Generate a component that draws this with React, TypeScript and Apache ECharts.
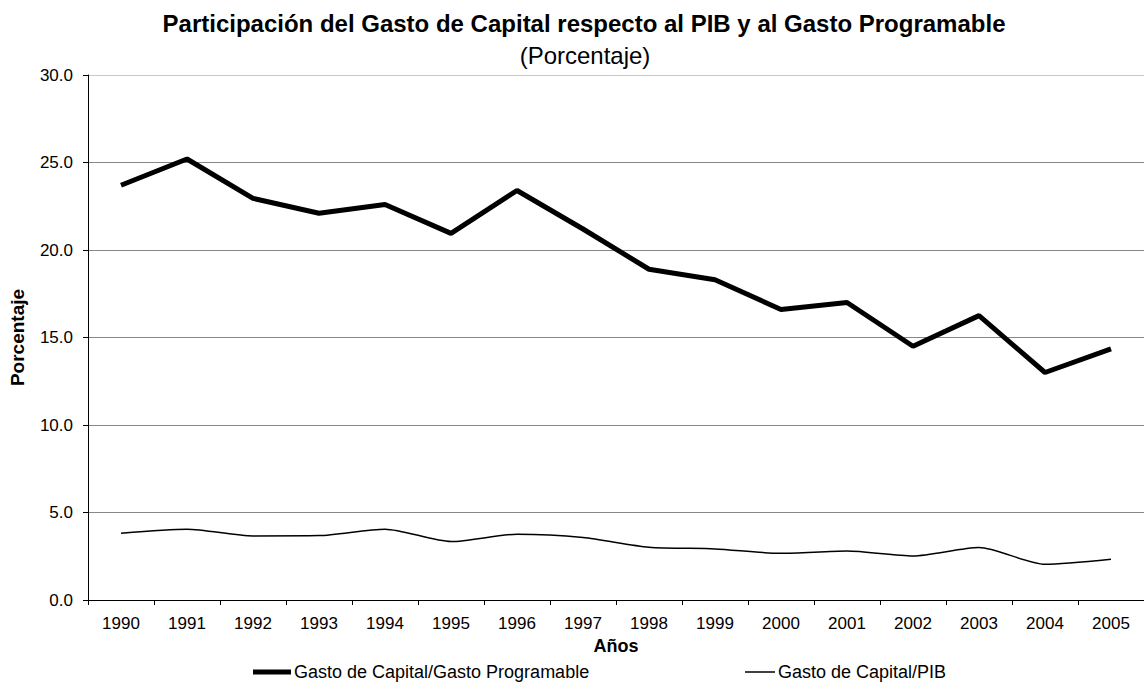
import React, { useEffect, useRef } from "react";
import * as echarts from "echarts";

const years = ["1990","1991","1992","1993","1994","1995","1996","1997","1998","1999","2000","2001","2002","2003","2004","2005"];
const gastoProgramable = [23.7, 25.2, 22.95, 22.1, 22.6, 20.95, 23.4, 21.2, 18.9, 18.3, 16.6, 17.0, 14.5, 16.25, 13.0, 14.35];
const gastoPIB = [3.82, 4.05, 3.66, 3.68, 4.05, 3.34, 3.76, 3.57, 3.02, 2.92, 2.67, 2.8, 2.52, 3.0, 2.04, 2.33];
const seriesNames = ["Gasto de Capital/Gasto Programable", "Gasto de Capital/PIB"];
const titleText = "Participación del Gasto de Capital respecto al PIB y al Gasto Programable";
const subtitleText = "(Porcentaje)";

const FONT = "Liberation Sans, Arial, sans-serif";

export default function App() {
  const ref = useRef<HTMLDivElement>(null);
  useEffect(() => {
    const chart = echarts.init(ref.current!, null, { renderer: "svg" });
    chart.setOption({
      animation: false,
      backgroundColor: "#ffffff",
      textStyle: { fontFamily: FONT, color: "#000" },
      graphic: [
        {
          type: "text",
          x: 584,
          y: 23,
          style: {
            text: titleText,
            font: `bold 24px ${FONT}`,
            fill: "#000",
            textAlign: "center",
            textVerticalAlign: "middle",
          },
        },
        {
          type: "text",
          x: 585,
          y: 55,
          style: {
            text: subtitleText,
            font: `24px ${FONT}`,
            fill: "#000",
            textAlign: "center",
            textVerticalAlign: "middle",
          },
        },
      ],
      legend: [
        {
          data: [{ name: seriesNames[0], icon: "rect" }],
          left: 248,
          top: 658,
          itemWidth: 38,
          itemHeight: 5,
          textStyle: { fontFamily: FONT, fontSize: 18, color: "#000", padding: [0, 0, 0, -2] },
        },
        {
          data: [{ name: seriesNames[1], icon: "rect" }],
          left: 740,
          top: 658,
          itemWidth: 30,
          itemHeight: 1.5,
          textStyle: { fontFamily: FONT, fontSize: 18, color: "#000", padding: [0, 0, 0, -2] },
        },
      ],
      grid: { left: 87, top: 75, width: 1068, height: 525, containLabel: false },
      xAxis: {
        type: "category",
        data: years,
        boundaryGap: true,
        name: "Años",
        nameLocation: "middle",
        nameGap: 36,
        nameTextStyle: { fontFamily: FONT, fontSize: 18, fontWeight: "bold", color: "#000" },
        axisLine: { lineStyle: { color: "#000", width: 1 } },
        axisTick: { show: true, length: 5, lineStyle: { color: "#000" } },
        axisLabel: { fontFamily: FONT, fontSize: 17, color: "#000", margin: 15 },
        splitLine: { show: false },
      },
      yAxis: {
        type: "value",
        min: 0,
        max: 30,
        interval: 5,
        name: "Porcentaje",
        nameLocation: "middle",
        nameGap: 61,
        nameRotate: 90,
        nameTextStyle: { fontFamily: FONT, fontSize: 19, fontWeight: "bold", color: "#000" },
        axisLine: { show: true, lineStyle: { color: "#000", width: 1 } },
        axisTick: { show: true, length: 5, lineStyle: { color: "#000" } },
        axisLabel: {
          fontFamily: FONT,
          fontSize: 17,
          color: "#000",
          margin: 15,
          formatter: (v: number) => v.toFixed(1),
        },
        splitLine: {
          show: true,
          lineStyle: { color: ["#888", "#888", "#888", "#888", "#888", "#888", "#c8c8c8"], width: 1 },
        },
      },
      series: [
        {
          name: seriesNames[0],
          type: "line",
          data: gastoProgramable,
          symbol: "none",
          lineStyle: { color: "#000", width: 5 },
          itemStyle: { color: "#000" },
        },
        {
          name: seriesNames[1],
          type: "line",
          data: gastoPIB,
          symbol: "none",
          smooth: 0.25,
          lineStyle: { color: "#000", width: 1.5 },
          itemStyle: { color: "#000" },
        },
      ],
    });
    return () => chart.dispose();
  }, []);
  return (
    <div
      ref={ref}
      style={{ position: "absolute", left: 0, top: 0, width: 1144, height: 682, background: "#fff" }}
    />
  );
}
